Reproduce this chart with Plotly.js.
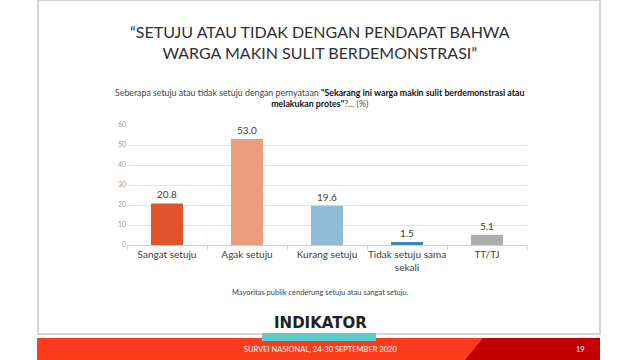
<!DOCTYPE html>
<html><head><meta charset="utf-8">
<script src="https://cdn.plot.ly/plotly-3.0.1.min.js"></script>
<style>html,body{margin:0;padding:0;background:#fff;}#chart{width:640px;height:360px;}</style>
</head><body><div id="chart"></div>
<script>
var categories = ["Sangat setuju", "Agak setuju", "Kurang setuju", "Tidak setuju sama<br>sekali", "TT/TJ"];
var values = [20.8, 53.0, 19.6, 1.5, 5.1];
var barColors = ["#E1542B", "#EE9C7E", "#90BCD8", "#3D84BC", "#ADADAD"];
var yTicks = [0, 10, 20, 30, 40, 50, 60];

var W = 640, H = 360;
function px(x){return x/W;}
function py(y){return 1 - y/H;}

var trace = {
  type: "bar",
  x: categories,
  y: values,
  marker: {color: barColors},
  width: 0.4,
  texttemplate: "%{y:.1f}",
  textposition: "outside",
  textfont: {family: "Lato, 'Open Sans', sans-serif", size: 10, color: "#404040"},
  cliponaxis: false,
  hoverinfo: "none"
};

var layout = {
  width: W, height: H,
  margin: {l: 0, r: 0, t: 0, b: 0},
  paper_bgcolor: "#ffffff",
  plot_bgcolor: "rgba(0,0,0,0)",
  showlegend: false,
  xaxis: {
    domain: [px(127), px(527)],
    type: "category",
    automargin: false,
    tickangle: 0,
    showline: true, linecolor: "#d0d0d0", linewidth: 1,
    ticks: "outside", tickson: "boundaries", ticklen: 4, tickcolor: "#d0d0d0",
    tickfont: {family: "Lato, 'Open Sans', sans-serif", size: 10, color: "#404040"},
    showgrid: false, fixedrange: true
  },
  yaxis: {
    domain: [py(245), py(125)],
    range: [0, 60],
    tickvals: yTicks,
    automargin: false,
    showline: false,
    gridcolor: "#e4e4e4", gridwidth: 1,
    zeroline: false,
    ticks: "", ticklen: 4,
    tickfont: {family: "Lato, 'Open Sans', sans-serif", size: 7, color: "#9a9a9a"},
    fixedrange: true
  },
  shapes: [
    {type: "rect", xref: "paper", yref: "paper", x0: px(38), x1: px(600), y0: py(334), y1: py(0),
     line: {color: "#d4d4d4", width: 2}, fillcolor: "rgba(0,0,0,0)", layer: "below"},
    {type: "rect", xref: "paper", yref: "paper", x0: px(37), x1: px(600), y0: py(360), y1: py(338),
     line: {width: 0}, fillcolor: "#FF3B1E"},
    {type: "path", xref: "paper", yref: "paper",
     path: "M " + px(483) + " " + py(338) + " L " + px(600) + " " + py(338) + " L " + px(600) + " " + py(360) + " L " + px(465) + " " + py(360) + " Z",
     line: {width: 0}, fillcolor: "#C20000"},
    {type: "rect", xref: "paper", yref: "paper", x0: px(262), x1: px(376), y0: py(341), y1: py(333),
     line: {width: 0}, fillcolor: "#5BCBCB", layer: "above"}
  ],
  annotations: [
    {xref: "paper", yref: "paper", x: px(320), y: py(42), xanchor: "center", yanchor: "middle", showarrow: false,
     text: "“SETUJU ATAU TIDAK DENGAN PENDAPAT BAHWA<br>WARGA MAKIN SULIT BERDEMONSTRASI”",
     font: {family: "Lato, 'Open Sans', sans-serif", size: 16, color: "#303030"}},
    {xref: "paper", yref: "paper", x: px(320), y: py(98), xanchor: "center", yanchor: "middle", showarrow: false,
     text: "Seberapa setuju atau tidak setuju dengan pernyataan <b style='color:#111'>\"Sekarang ini warga makin sulit berdemonstrasi atau<br>melakukan protes\"</b>?... (%)",
     font: {family: "Lato, 'Open Sans', sans-serif", size: 8.8, color: "#444444"}},
    {xref: "paper", yref: "paper", x: px(320), y: py(292), xanchor: "center", yanchor: "middle", showarrow: false,
     text: "Mayoritas publik cenderung setuju atau sangat setuju.",
     font: {family: "Lato, 'Open Sans', sans-serif", size: 7.5, color: "#444444"}},
    {xref: "paper", yref: "paper", x: px(320), y: py(323), xanchor: "center", yanchor: "middle", showarrow: false,
     text: "<b>INDIKATOR</b>",
     font: {family: "'DejaVu Sans', sans-serif", size: 15, color: "#222222"}},
    {xref: "paper", yref: "paper", x: px(320), y: py(349), xanchor: "center", yanchor: "middle", showarrow: false,
     text: "SURVEI NASIONAL, 24-30 SEPTEMBER 2020",
     font: {family: "Lato, 'Open Sans', sans-serif", size: 7.5, color: "#ffffff"}},
    {xref: "paper", yref: "paper", x: px(580), y: py(349), xanchor: "center", yanchor: "middle", showarrow: false,
     text: "19",
     font: {family: "Lato, 'Open Sans', sans-serif", size: 7.5, color: "#ffffff"}}
  ]
};

Plotly.newPlot("chart", [trace], layout, {staticPlot: true, displayModeBar: false});
</script>
</body></html>
